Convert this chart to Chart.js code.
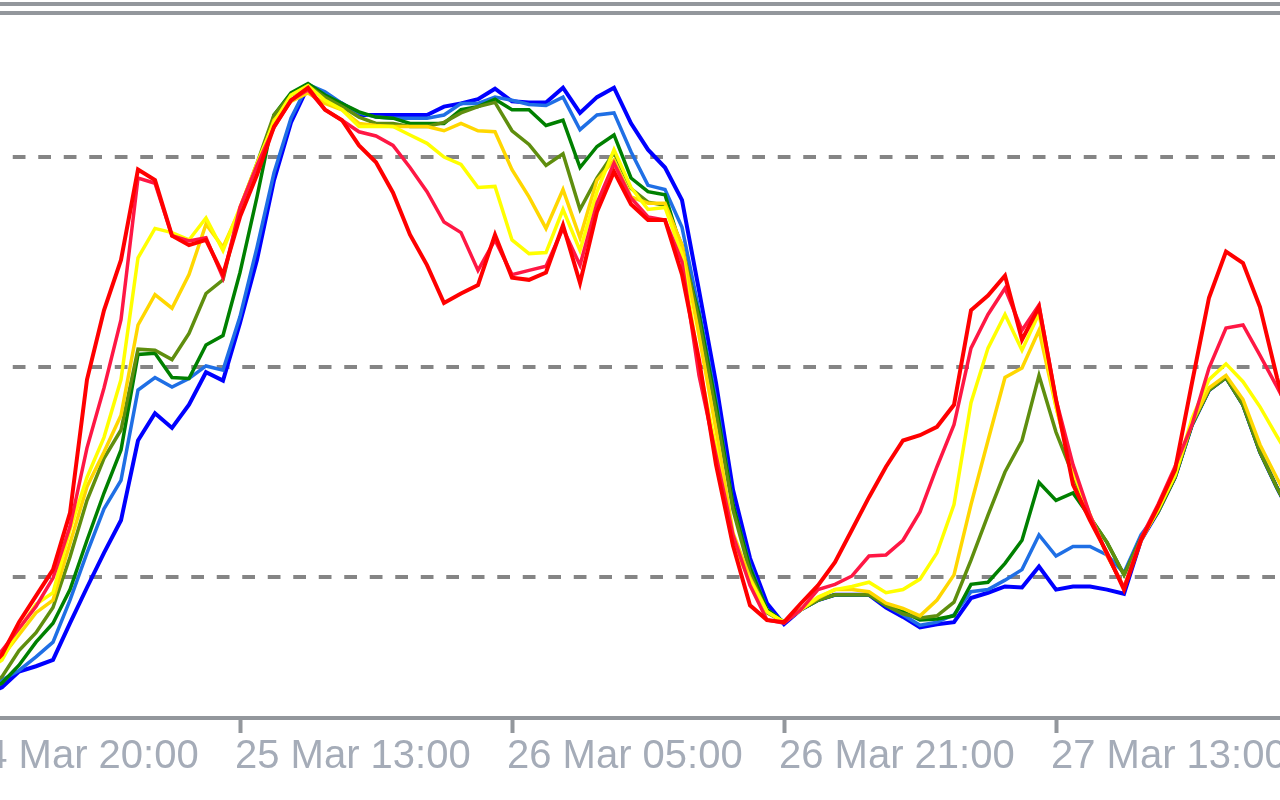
<!DOCTYPE html>
<html lang="en">

<head>
  <meta charset="UTF-8">
  <title>Indicator lines</title>
  <script src="https://cdn.jsdelivr.net/npm/chart.js"></script>
  <style>
    html, body { margin: 0; padding: 0; background: #fff; }
    body { width: 1280px; height: 800px; overflow: hidden; position: relative; }
    .topline { position: absolute; left: 0; width: 1280px; height: 4px; background: #93979c; }
    #chartCanvas { position: absolute; left: -40px; top: 0; }
  </style>
</head>

<body>
  <div class="topline" style="top:2px"></div>
  <div class="topline" style="top:11px"></div>
  <canvas id="chartCanvas" width="1394" height="800"></canvas>

  <script>
    // hours counted from 25 Mar 13:00 (one bar per hour)
    const hours = [-16, -15, -14, -13, -12, -11, -10, -9, -8, -7, -6, -5, -4, -3, -2, -1,
      0, 1, 2, 3, 4, 5, 6, 7, 8, 9, 10, 11, 12, 13, 14, 15,
      16, 17, 18, 19, 20, 21, 22, 23, 24, 25, 26, 27, 28, 29, 30, 31,
      32, 33, 34, 35, 36, 37, 38, 39, 40, 41, 42, 43, 44, 45, 46, 47,
      48, 49, 50, 51, 52, 53, 54, 55, 56, 57, 58, 59, 60, 61, 62];

    const tickHours = [-16, 0, 16, 32, 48];
    const tickLabels = ['24 Mar 20:00', '25 Mar 13:00', '26 Mar 05:00', '26 Mar 21:00', '27 Mar 13:00'];
    const levels = [30, 50, 70];

    const red = [19.7, 20.9, 22.6, 25.7, 28.2, 30.7, 36.1, 48.8, 55.4, 60.2, 68.8, 67.8, 62.5, 61.6, 62.1, 58.8,
      64.3, 68.3, 72.9, 75.4, 76.6, 74.5, 73.5, 71.1, 69.5, 66.6, 62.6, 59.7, 56.1, 57.0, 57.8, 62.6,
      58.5, 58.3, 59.0, 63.5, 58.0, 64.8, 68.6, 65.5, 64.0, 64.0, 58.8, 50.7, 40.7, 33.0, 27.3, 25.9,
      25.7, 27.5, 29.2, 31.4, 34.5, 37.6, 40.5, 43.0, 43.5, 44.3, 46.4, 55.4, 56.8, 58.7, 52.6, 55.7,
      46.9, 38.8, 35.4, 32.3, 28.8, 33.5, 36.7, 40.2, 48.5, 56.6, 61.0, 59.9, 55.7, 49.0, 43.0];

    const crimson = [20.2, 21.6, 23.0, 25.1, 27.2, 29.9, 34.8, 42.3, 48.0, 54.5, 68.0, 67.5, 62.5, 62.0, 62.3, 58.5,
      65.2, 69.2, 72.8, 75.4, 76.4, 74.5, 73.5, 72.4, 72.0, 71.1, 69.0, 66.7, 63.8, 62.8, 59.2, 62.1,
      58.8, 59.2, 59.6, 63.2, 59.7, 65.6, 69.4, 66.1, 64.3, 64.0, 60.0, 49.2, 41.6, 34.0, 29.2, 25.9,
      25.6, 26.9, 28.8, 29.3, 30.1, 32.0, 32.1, 33.5, 36.2, 40.5, 44.5, 51.8, 55.0, 57.5, 53.5, 55.9,
      46.9, 40.7, 35.9, 32.1, 29.0, 33.7, 36.9, 40.5, 44.5, 49.9, 53.7, 54.0, 51.1, 48.1, 45.0];

    const yellow = [19.7, 21.0, 22.1, 25.0, 27.4, 28.5, 34.5, 39.5, 43.3, 48.8, 60.4, 63.2, 62.8, 62.1, 64.2, 61.1,
      65.2, 69.4, 73.3, 75.9, 76.8, 75.4, 74.5, 72.9, 72.9, 72.9, 72.1, 71.3, 70.0, 69.3, 67.1, 67.2,
      62.1, 60.8, 60.9, 65.0, 61.1, 66.7, 70.7, 67.1, 65.0, 65.2, 60.7, 50.2, 42.3, 33.0, 29.7, 26.7,
      25.7, 26.9, 28.1, 28.8, 29.1, 29.5, 28.5, 28.8, 29.8, 32.3, 36.9, 46.6, 51.8, 55.0, 51.6, 55.1,
      46.2, 40.2, 35.9, 32.1, 29.0, 33.5, 36.4, 39.7, 45.1, 48.8, 50.3, 48.6, 46.2, 43.4, 40.7];

    const gold = [19.2, 21.0, 22.4, 24.5, 26.6, 27.8, 33.2, 38.6, 41.9, 45.4, 54.0, 56.9, 55.6, 58.8, 63.6, 61.4,
      65.0, 69.0, 73.5, 75.3, 76.1, 75.1, 74.5, 73.2, 73.0, 72.9, 72.9, 72.9, 72.5, 73.2, 72.5, 72.4,
      68.8, 66.2, 63.2, 66.9, 62.3, 67.8, 69.7, 66.2, 65.6, 65.6, 61.6, 53.0, 44.0, 34.2, 29.9, 26.7,
      25.7, 26.9, 28.0, 28.8, 28.8, 28.6, 27.5, 27.0, 26.3, 27.8, 30.2, 36.9, 43.0, 49.0, 49.9, 53.5,
      46.2, 40.0, 35.9, 32.1, 29.0, 33.5, 36.4, 39.7, 44.7, 48.0, 49.2, 46.9, 42.6, 39.4, 36.4];

    const olive = [18.6, 19.4, 20.5, 23.0, 24.7, 27.1, 31.9, 37.3, 41.3, 44.0, 51.7, 51.6, 50.7, 53.2, 57.0, 58.3,
      65.1, 69.4, 74.0, 75.9, 76.8, 75.7, 74.8, 73.8, 73.2, 73.2, 72.9, 72.9, 73.3, 74.2, 74.8, 75.2,
      72.5, 71.2, 69.2, 70.3, 65.0, 68.0, 70.4, 67.0, 65.7, 65.4, 61.6, 54.5, 45.7, 36.4, 30.4, 26.6,
      25.7, 26.9, 27.8, 28.3, 28.3, 28.3, 27.3, 26.5, 26.1, 26.3, 27.6, 31.6, 35.9, 40.0, 43.0, 49.2,
      43.8, 39.7, 35.7, 33.3, 30.2, 33.7, 36.2, 39.5, 44.5, 47.8, 49.0, 46.4, 41.9, 38.5, 35.4];

    const green = [18.3, 19.0, 19.9, 21.6, 23.8, 25.6, 28.8, 33.5, 38.0, 42.1, 51.2, 51.3, 49.0, 48.9, 52.1, 53.0,
      59.0, 66.2, 74.0, 76.1, 77.0, 75.9, 75.1, 74.3, 73.8, 73.7, 73.2, 73.2, 73.2, 74.5, 74.8, 75.5,
      74.5, 74.5, 73.0, 73.5, 69.0, 71.0, 72.1, 68.0, 66.7, 66.4, 61.1, 55.0, 46.4, 36.9, 30.9, 26.9,
      25.7, 26.9, 27.8, 28.3, 28.3, 28.3, 27.3, 26.7, 25.9, 26.0, 26.3, 29.3, 29.5, 31.3, 33.5, 39.0,
      37.3, 38.0, 35.7, 33.3, 30.2, 33.7, 36.2, 39.5, 44.5, 47.8, 49.0, 46.4, 41.9, 38.5, 35.4];

    const lightBlue = [18.3, 19.2, 20.2, 21.1, 22.4, 23.8, 27.8, 32.3, 36.5, 39.2, 47.8, 49.0, 48.1, 48.9, 50.1, 49.7,
      54.8, 61.4, 68.5, 73.7, 76.9, 76.2, 75.1, 74.2, 73.8, 73.7, 73.7, 73.7, 74.0, 75.1, 75.1, 75.7,
      75.4, 75.0, 74.9, 75.7, 72.6, 74.0, 74.2, 70.5, 67.3, 66.9, 63.3, 55.4, 46.9, 36.9, 31.1, 26.9,
      25.7, 26.9, 27.8, 28.3, 28.3, 28.3, 27.3, 26.4, 25.4, 25.7, 26.4, 28.6, 28.8, 29.7, 30.7, 34.0,
      32.0, 32.9, 32.9, 32.1, 30.4, 34.0, 36.2, 39.5, 44.5, 47.8, 49.0, 46.4, 41.9, 38.5, 35.4];

    const blue = [17.8, 18.8, 19.5, 21.0, 21.5, 22.1, 25.6, 29.0, 32.3, 35.4, 43.0, 45.6, 44.2, 46.4, 49.5, 48.7,
      54.2, 60.2, 67.8, 73.3, 76.7, 75.8, 75.1, 74.0, 74.0, 74.0, 74.0, 74.0, 74.8, 75.1, 75.5, 76.5,
      75.3, 75.2, 75.2, 76.6, 74.2, 75.7, 76.6, 73.2, 70.7, 69.0, 65.9, 57.3, 48.5, 38.3, 31.8, 27.5,
      25.5, 26.9, 27.8, 28.3, 28.3, 28.3, 27.1, 26.2, 25.2, 25.5, 25.7, 28.0, 28.5, 29.1, 29.0, 31.0,
      28.8, 29.1, 29.1, 28.8, 28.4, 33.5, 36.2, 39.5, 44.5, 47.8, 49.0, 46.4, 41.9, 38.5, 35.4];

    // first in list is drawn on top
    const series = [
      { data: red, color: '#ff0000', width: 4 },
      { data: crimson, color: '#ff1744', width: 3.5 },
      { data: yellow, color: '#ffff00', width: 3.5 },
      { data: gold, color: '#ffd700', width: 3.5 },
      { data: olive, color: '#5f8e0e', width: 3.5 },
      { data: green, color: '#008000', width: 3.5 },
      { data: lightBlue, color: '#1f6fe5', width: 3.5 },
      { data: blue, color: '#0000ff', width: 4 }
    ];

    const axisGray = '#93979c';

    const ctx = document.getElementById('chartCanvas').getContext('2d');
    new Chart(ctx, {
      type: 'line',
      data: {
        datasets: series.map(s => ({
          data: hours.map((h, i) => ({ x: h, y: s.data[i] })),
          borderColor: s.color,
          borderWidth: s.width,
          pointRadius: 0,
          tension: 0,
          fill: false
        }))
      },
      options: {
        responsive: false,
        animation: false,
        layout: { padding: { left: 8, right: 60, top: 0, bottom: 0 } },
        plugins: { legend: { display: false }, tooltip: { enabled: false } },
        scales: {
          x: {
            type: 'linear',
            min: -16,
            max: 62,
            afterBuildTicks: scale => { scale.ticks = tickHours.map(v => ({ value: v })); },
            afterFit: scale => { scale.height = 82; },
            border: { display: true, color: axisGray, width: 4 },
            grid: { drawOnChartArea: false, drawTicks: true, tickLength: 15, tickWidth: 4, tickColor: axisGray },
            ticks: {
              align: 'start',
              padding: 0,
              labelOffset: -5,
              maxRotation: 0,
              autoSkip: false,
              color: '#a5acb8',
              font: { family: 'Liberation Sans', size: 40 },
              callback: v => tickLabels[tickHours.indexOf(v)]
            }
          },
          y: {
            min: 16.571,
            max: 84.952,
            afterBuildTicks: scale => { scale.ticks = levels.map(v => ({ value: v })); },
            border: { display: false, dash: [12.75, 12.75], dashOffset: 6.25 },
            grid: {
              color: '#858585',
              lineWidth: 4,
              drawTicks: false
            },
            ticks: { display: false }
          }
        }
      }
    });
  </script>
</body>

</html>
